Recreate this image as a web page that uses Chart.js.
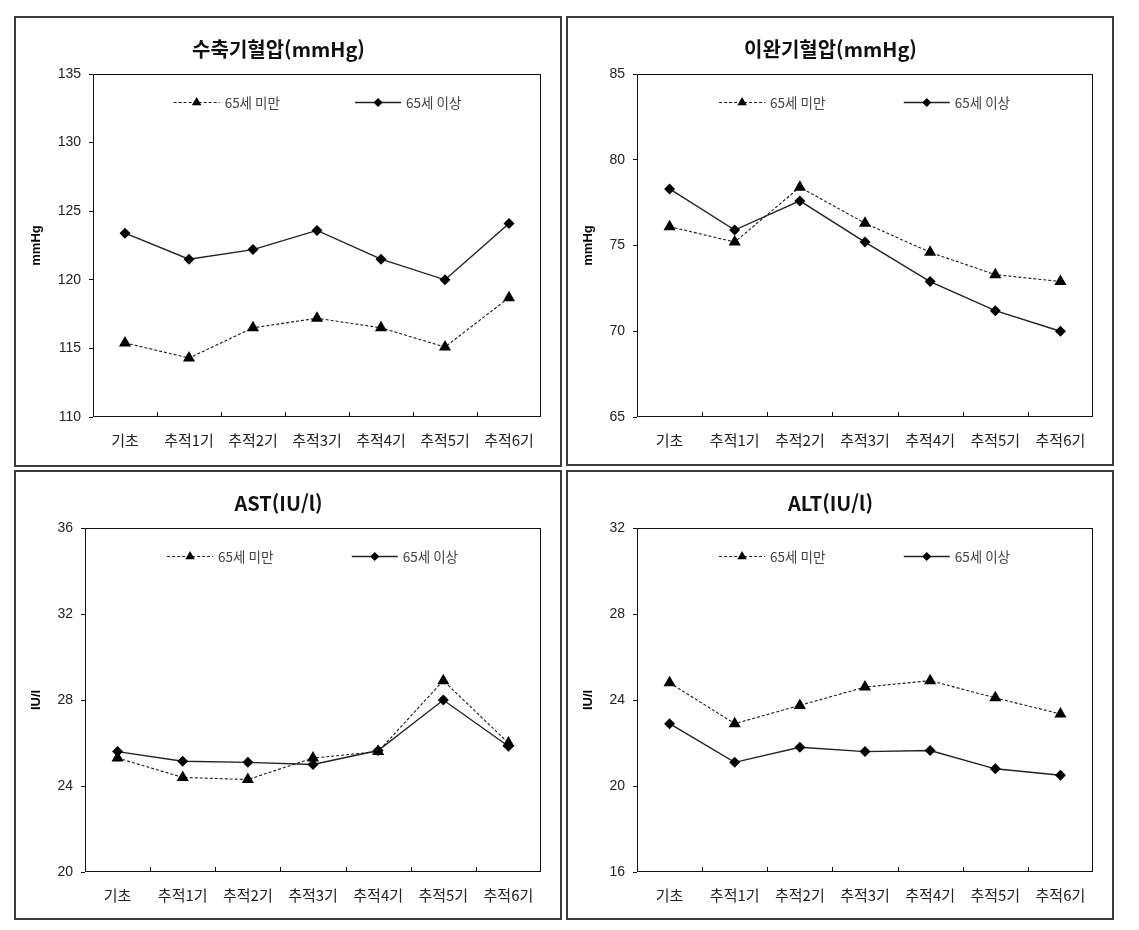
<!DOCTYPE html>
<html lang="ko">
<head>
<meta charset="utf-8">
<title>65세 미만 / 65세 이상 추적 결과</title>
<script src="https://cdn.jsdelivr.net/npm/chart.js@4.4.1/dist/chart.umd.min.js"></script>
<style>
  html, body { margin: 0; padding: 0; background: #fff; }
  body { width: 1139px; height: 930px; position: relative; overflow: hidden; }
  .panel { position: absolute; box-sizing: border-box; border: 2px solid #3c3c3c; background: #fff; }
  .panel canvas { position: absolute; left: 0; top: 0; }
</style>
</head>
<body>
<div class="panel" id="p1"><canvas></canvas></div>
<div class="panel" id="p2"><canvas></canvas></div>
<div class="panel" id="p3"><canvas></canvas></div>
<div class="panel" id="p4"><canvas></canvas></div>
<script>
// values
const categories = ['기초', '추적1기', '추적2기', '추적3기', '추적4기', '추적5기', '추적6기'];
const seriesNames = ['65세 미만', '65세 이상'];

const sbpUnder65 = [115.4, 114.3, 116.5, 117.2, 116.5, 115.1, 118.7];
const sbpOver65 = [123.4, 121.5, 122.2, 123.6, 121.5, 120.0, 124.1];
const dbpUnder65 = [76.1, 75.2, 78.4, 76.3, 74.6, 73.3, 72.9];
const dbpOver65 = [78.3, 75.9, 77.6, 75.2, 72.9, 71.2, 70.0];
const astUnder65 = [25.3, 24.4, 24.3, 25.3, 25.6, 28.9, 26.0];
const astOver65 = [25.6, 25.15, 25.1, 25.0, 25.65, 28.0, 25.85];
const altUnder65 = [24.8, 22.9, 23.75, 24.6, 24.9, 24.1, 23.35];
const altOver65 = [22.9, 21.1, 21.8, 21.6, 21.65, 20.8, 20.5];

const sbpTicks = [110, 115, 120, 125, 130, 135];
const dbpTicks = [65, 70, 75, 80, 85];
const astTicks = [20, 24, 28, 32, 36];
const altTicks = [16, 20, 24, 28, 32];

const KFONT = '"Noto Sans CJK KR", "Noto Sans", sans-serif';
const NFONT = '"Liberation Sans", Arial, sans-serif';

// page layout: panel box [x, y, w, h], plot area [left, top, right, bottom]
const panels = [
    { id: 'p1', box: [14, 16, 548, 451], area: [93, 74, 541, 417], titleY: 49,
      title: '수축기혈압(mmHg)', yTitle: 'mmHg', under: sbpUnder65, over: sbpOver65, ticks: sbpTicks },
    { id: 'p2', box: [566, 16, 548, 450], area: [637, 74, 1093, 417], titleY: 49,
      title: '이완기혈압(mmHg)', yTitle: 'mmHg', under: dbpUnder65, over: dbpOver65, ticks: dbpTicks },
    { id: 'p3', box: [14, 470, 548, 450], area: [85, 528, 541, 872], titleY: 503,
      title: 'AST(IU/l)', yTitle: 'IU/l', under: astUnder65, over: astOver65, ticks: astTicks },
    { id: 'p4', box: [566, 470, 548, 450], area: [637, 528, 1093, 872], titleY: 503,
      title: 'ALT(IU/l)', yTitle: 'IU/l', under: altUnder65, over: altOver65, ticks: altTicks },
];

function drawMarker(ctx, style, x, y, r) {
    ctx.beginPath();
    if (style === 'triangle') {
        const h = r * 1.5;
        const s = r * Math.sqrt(3) / 2;
        ctx.moveTo(x, y - r);
        ctx.lineTo(x + s, y - r + h);
        ctx.lineTo(x - s, y - r + h);
    } else {
        ctx.moveTo(x, y - r);
        ctx.lineTo(x + r, y);
        ctx.lineTo(x, y + r);
        ctx.lineTo(x - r, y);
    }
    ctx.closePath();
    ctx.fill();
}

// plot frame, inward category ticks and the in-plot legend
const framePlugin = {
    id: 'frame',
    afterDraw(chart) {
        const { ctx, chartArea: a } = chart;
        const x = chart.scales.x;
        ctx.save();
        ctx.strokeStyle = '#111';
        ctx.lineWidth = 1;
        ctx.strokeRect(a.left + 0.5, a.top + 0.5, a.width - 1, a.height - 1);

        ctx.beginPath();
        for (let i = 1; i < categories.length; i++) {
            const px = Math.round((x.getPixelForTick(i - 1) + x.getPixelForTick(i)) / 2) + 0.5;
            ctx.moveTo(px, a.bottom);
            ctx.lineTo(px, a.bottom - 5);
        }
        ctx.stroke();

        const starts = [0.18, 0.585];
        const ly = a.top + 28;
        chart.data.datasets.forEach((ds, i) => {
            const sx = a.left + a.width * starts[i];
            ctx.strokeStyle = ds.borderColor;
            ctx.lineWidth = ds.borderWidth;
            ctx.setLineDash(ds.borderDash || []);
            ctx.beginPath();
            ctx.moveTo(sx, ly + 0.5);
            ctx.lineTo(sx + 46, ly + 0.5);
            ctx.stroke();
            ctx.setLineDash([]);
            ctx.fillStyle = '#000';
            drawMarker(ctx, ds.pointStyle, sx + 23, ly + 0.5, ds.pointStyle === 'triangle' ? 5.5 : 4.5);
            ctx.fillStyle = '#444';
            ctx.font = '13.5px ' + KFONT;
            ctx.textBaseline = 'middle';
            ctx.textAlign = 'left';
            ctx.fillText(ds.label, sx + 51, ly + 1);
        });
        ctx.restore();
    }
};

function makeChart(p) {
    const wrap = document.getElementById(p.id);
    const [bx, by, bw, bh] = p.box;
    wrap.style.left = bx + 'px';
    wrap.style.top = by + 'px';
    wrap.style.width = bw + 'px';
    wrap.style.height = bh + 'px';

    const innerW = bw - 4, innerH = bh - 4;
    const ox = bx + 2, oy = by + 2;
    const canvas = wrap.querySelector('canvas');
    canvas.width = innerW;
    canvas.height = innerH;
    canvas.style.width = innerW + 'px';
    canvas.style.height = innerH + 'px';

    const [l, t, r, b] = p.area;
    const yAxisW = l - ox;
    const xAxisH = oy + innerH - b;
    const padRight = ox + innerW - r;
    const titleBlock = t - oy;
    const titleLine = 20 * 1.2;
    const titleTop = (p.titleY - oy) - titleLine / 2;

    return new Chart(canvas, {
        type: 'line',
        data: {
            labels: categories,
            datasets: [
                {
                    label: seriesNames[0], data: p.under,
                    borderColor: '#1a1a1a', borderWidth: 1.1, borderDash: [3, 2],
                    pointStyle: 'triangle', pointRadius: 7, pointBorderWidth: 0,
                    pointBackgroundColor: '#000', pointBorderColor: '#000',
                    tension: 0, fill: false,
                },
                {
                    label: seriesNames[1], data: p.over,
                    borderColor: '#222', borderWidth: 1.4,
                    pointStyle: 'rectRot', pointRadius: 5.5, pointBorderWidth: 0,
                    pointBackgroundColor: '#000', pointBorderColor: '#000',
                    tension: 0, fill: false,
                },
            ],
        },
        options: {
            responsive: false,
            animation: false,
            devicePixelRatio: 1,
            layout: { padding: { left: 0, right: padRight, top: 0, bottom: 0 } },
            plugins: {
                legend: { display: false },
                tooltip: { enabled: false },
                title: {
                    display: true, text: p.title, color: '#111',
                    font: { family: KFONT, size: 20, weight: 'bold', lineHeight: 1.2 },
                    padding: { top: titleTop, bottom: titleBlock - titleTop - titleLine },
                },
            },
            scales: {
                x: {
                    offset: true,
                    grid: { display: false },
                    border: { display: false },
                    ticks: { color: '#222', font: { family: KFONT, size: 15 }, padding: 6, maxRotation: 0, autoSkip: false },
                    afterFit(scale) { scale.height = xAxisH; },
                },
                y: {
                    min: p.ticks[0],
                    max: p.ticks[p.ticks.length - 1],
                    grid: { drawOnChartArea: false, drawTicks: true, tickLength: 4, color: '#111' },
                    border: { display: false },
                    ticks: { stepSize: p.ticks[1] - p.ticks[0], color: '#222', font: { family: NFONT, size: 14 }, padding: 8 },
                    title: {
                        display: true, text: p.yTitle, color: '#000',
                        font: { family: NFONT, size: 13, weight: 'bold', lineHeight: 1.2 },
                        padding: { top: 12.2, bottom: 0 },
                    },
                    afterFit(scale) { scale.width = yAxisW; },
                },
            },
        },
        plugins: [framePlugin],
    });
}

panels.forEach(makeChart);
</script>
</body>
</html>
